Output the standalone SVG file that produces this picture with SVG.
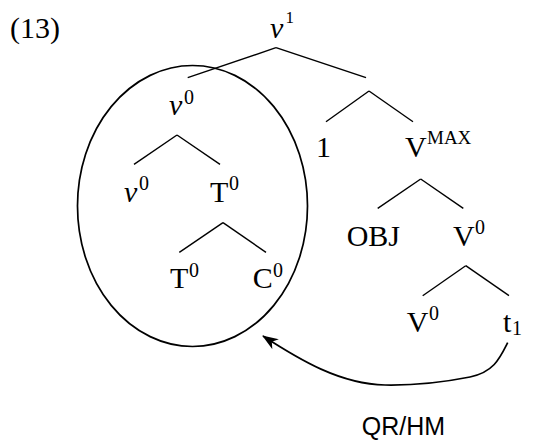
<svg xmlns="http://www.w3.org/2000/svg" width="533" height="441" viewBox="0 0 533 441">
<defs>
<style>
.t{font-family:"Liberation Serif","Times New Roman",serif;font-size:30px;fill:#000}
.i{font-style:italic}
.s{font-family:"Liberation Serif","Times New Roman",serif;font-size:20px;fill:#000}
.m{font-family:"Liberation Serif","Times New Roman",serif;font-size:19px;fill:#000}
.l{font-family:"Liberation Sans",Arial,sans-serif;font-size:25px;fill:#000}
.e{fill:none;stroke:#000;stroke-width:1.7}
.c line{stroke:#000;stroke-width:1.4}
</style>
<marker id="ah" viewBox="0 0 16 12" refX="15" refY="6" markerWidth="16" markerHeight="12" markerUnits="userSpaceOnUse" orient="auto">
<path d="M0,0 L16,6 L0,12 L4.5,6 Z" fill="#000"/>
</marker>
</defs>
<text class="t" x="10" y="38">(13)</text>
<g id="n-v1"><text class="t i" x="270" y="37.5">v</text><text class="m" x="285.5" y="22.5" style="font-size:17px">1</text></g>
<g id="n-v0a"><text class="t i" x="169" y="114.5">v</text><text class="s" x="184" y="104">0</text></g>
<g id="n-1"><text class="t" x="316" y="157">1</text></g>
<g id="n-vmax"><text class="t" x="405" y="157">V</text><text class="m" x="427" y="144">MAX</text></g>
<g id="n-v0b"><text class="t i" x="124" y="201.7">v</text><text class="s" x="139" y="190">0</text></g>
<g id="n-t0a"><text class="t" x="210" y="201.7">T</text><text class="s" x="229" y="190">0</text></g>
<g id="n-obj"><text class="t" x="346.7" y="245.7">OBJ</text></g>
<g id="n-v0c"><text class="t" x="453" y="245.7">V</text><text class="s" x="475" y="234">0</text></g>
<g id="n-t0b"><text class="t" x="170" y="288.3">T</text><text class="s" x="189" y="277">0</text></g>
<g id="n-c0"><text class="t" x="252.7" y="288.3">C</text><text class="s" x="273" y="277">0</text></g>
<g id="n-v0d"><text class="t" x="406.7" y="331.7">V</text><text class="s" x="429" y="320">0</text></g>
<g id="n-t1"><text class="t" x="503" y="331.7">t</text><text class="s" x="512" y="335">1</text></g>
<g id="ellipse"><ellipse class="e" cx="192.5" cy="206" rx="115" ry="140.5"/></g>
<g id="connectors" class="c">
<line x1="276" y1="47.7" x2="187.7" y2="77.7"/>
<line x1="276" y1="47.7" x2="366" y2="77.7"/>
<line x1="369" y1="91" x2="326" y2="121.7"/>
<line x1="369" y1="91" x2="413" y2="121.7"/>
<line x1="177" y1="135" x2="134" y2="164.3"/>
<line x1="177" y1="135" x2="220" y2="164.3"/>
<line x1="223" y1="222.7" x2="179.3" y2="252.3"/>
<line x1="223" y1="222.7" x2="266" y2="252.3"/>
<line x1="420.7" y1="179" x2="377.7" y2="208.3"/>
<line x1="420.7" y1="179" x2="463.3" y2="208.3"/>
<line x1="465.7" y1="265.7" x2="422.7" y2="295.7"/>
<line x1="465.7" y1="265.7" x2="509" y2="295.7"/>
<path d="M507.7,342.7 C500,358 494,372 470,377 C445,382 415,385.5 385,385 C340,384 300,360 263,336" fill="none" stroke="#000" stroke-width="1.7" marker-end="url(#ah)"/>
</g>
<text class="l" x="361.7" y="435">QR/HM</text>
</svg>
